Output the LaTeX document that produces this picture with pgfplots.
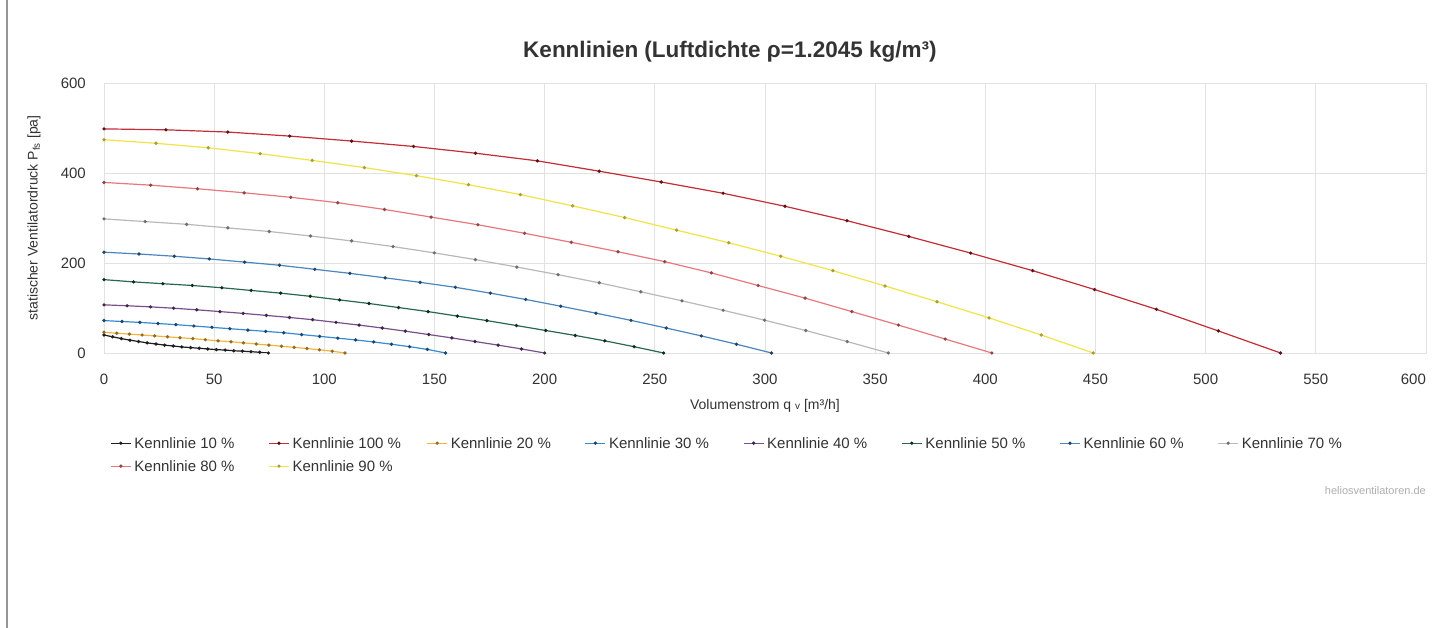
\documentclass[border=0pt]{standalone}
\usepackage{pgfplots}
\pgfplotsset{compat=1.18}
\usepackage{fontspec}
\setmainfont{Liberation Sans}
\definecolor{gridc}{RGB}{226,226,226}
\definecolor{txtc}{RGB}{51,51,51}
\definecolor{wmc}{RGB}{175,175,175}
\definecolor{bordc}{RGB}{150,150,150}
\definecolor{cA}{RGB}{30,30,30}
\definecolor{cJ}{RGB}{195,45,55}
\definecolor{cB}{RGB}{245,180,60}
\definecolor{cC}{RGB}{55,140,210}
\definecolor{cD}{RGB}{120,80,140}
\definecolor{cE}{RGB}{40,105,75}
\definecolor{cF}{RGB}{75,135,190}
\definecolor{cG}{RGB}{185,185,185}
\definecolor{cH}{RGB}{232,120,125}
\definecolor{cI}{RGB}{240,228,70}
\newcommand{\lent}[1]{\makebox[134bp][l]{#1}}
\begin{document}
\begin{tikzpicture}
\path[use as bounding box, fill=white] (0,0) rectangle (1432bp,628bp);
\draw[line width=2bp, bordc] (7bp,0) -- (7bp,628bp);
\begin{axis}[
  at={(104bp,275bp)}, anchor=south west,
  scale only axis, width=1322bp, height=270bp,
  xmin=0, xmax=600, ymin=0, ymax=600,
  xtick={0,50,...,600}, ytick={0,200,400,600},
  xticklabels={0,50,100,150,200,250,300,350,400,450,500,550,\makebox[0pt][r]{600}},
  grid=major, major grid style={draw=gridc, line width=0.8bp},
  axis line style={draw=gridc, line width=0.8bp},
  major tick length=0pt,
  /pgf/number format/assume math mode=true,
  tick label style={font=\fontsize{15bp}{18bp}\selectfont, text=txtc},
  xticklabel style={anchor=base, yshift=-32bp, inner sep=0pt},
  yticklabel style={anchor=east, xshift=-18bp, inner sep=0pt},
  title={Kennlinien (Luftdichte ρ=1.2045 kg/m³)},
  title style={at={(axis description cs:0.4735,1.0926)}, anchor=center, font=\bfseries\fontsize{22.5bp}{27bp}\selectfont, text=txtc},
  xlabel={Volumenstrom q {\fontsize{10bp}{12bp}\selectfont v} [m³/h]},
  xlabel style={at={(axis description cs:0.5,0)}, anchor=base, yshift=-57bp, font=\fontsize{14bp}{17bp}\selectfont, text=txtc},
  ylabel={statischer Ventilatordruck P\textsubscript{fs} [pa]},
  ylabel style={at={(axis description cs:-0.05295,0.5)}, anchor=center, font=\fontsize{14bp}{17bp}\selectfont, text=txtc},
  legend columns=8,
  legend style={at={(axis description cs:0.00454,-0.3131)}, anchor=north west, draw=none, fill=none, inner sep=0pt,
    font=\fontsize{15bp}{18bp}\selectfont, text=txtc, nodes={inner sep=0pt, text depth=0pt},
    column sep=0pt, row sep=12.1bp, /tikz/every odd column/.append style={column sep=3bp}},
  legend image code/.code={\draw[#1, mark repeat=2, mark phase=2] plot coordinates {(0bp,0bp) (10bp,0bp) (20bp,0bp)};},
  every axis plot/.append style={line width=1.2bp, mark=*, mark size=1.0bp},
]
\addplot[cA, mark options={fill=cA, draw=cA}] coordinates {
(0,40) (3.9,36) (7.9,32) (11.8,28.5) (15.7,25.5) (19.6,22.5) (23.6,20) (27.5,17.5) (31.4,15.5) (35.3,13.5)
(39.3,12) (43.2,10.5) (47.1,9) (51.0,7.5) (55.0,6.5) (58.9,5) (62.8,4) (66.7,3) (70.7,1.5) (74.6,0)};
\addlegendentry{\lent{Kennlinie 10 \%}}
\addplot[cJ, mark options={fill=cJ!45!black, draw=cJ!45!black}] coordinates {
(0,498) (28.1,496) (56.2,491) (84.3,482) (112.4,471) (140.5,459) (168.6,444) (196.7,427) (224.8,404) (252.9,380)
(281,355) (309.1,326) (337.2,294) (365.3,259) (393.4,222) (421.5,183) (449.6,141) (477.7,97) (505.8,49) (534,0)};
\addlegendentry{\lent{Kennlinie 100 \%}}
\addplot[cB, mark options={fill=cB!60!black, draw=cB!60!black}] coordinates {
(0,46) (5.8,44) (11.5,42) (17.3,40) (23.0,38) (28.8,36) (34.5,34) (40.3,32) (46.0,29.5) (51.8,27)
(57.6,25) (63.3,22.5) (69.1,20) (74.8,17.5) (80.6,15) (86.3,12.5) (92.1,10) (97.8,7) (103.6,4) (109.4,0)};
\addlegendentry{\lent{Kennlinie 20 \%}}
\addplot[cC, mark options={fill=cC!50!black, draw=cC!50!black}] coordinates {
(0,72) (8.2,70) (16.3,68) (24.5,65.5) (32.6,63) (40.8,60) (49.0,57) (57.1,54) (65.3,51) (73.4,48)
(81.6,45) (89.7,41) (97.9,37) (106.1,33) (114.2,29) (122.4,24.5) (130.5,19.5) (138.7,14) (146.8,8) (155,0)};
\addlegendentry{\lent{Kennlinie 30 \%}}
\addplot[cD, mark options={fill=cD!50!black, draw=cD!50!black}] coordinates {
(0,107) (10.5,105) (21.1,102.5) (31.6,99.5) (42.1,96) (52.6,92) (63.2,88) (73.7,83.5) (84.2,79) (94.7,74)
(105.3,68) (115.8,62) (126.3,55.5) (136.8,48.5) (147.4,41) (157.9,33.5) (168.4,25.5) (178.9,17.5) (189.5,9) (200,0)};
\addlegendentry{\lent{Kennlinie 40 \%}}
\addplot[cE, mark options={fill=cE!40!black, draw=cE!40!black}] coordinates {
(0,163) (13.4,158) (26.7,154) (40.1,150) (53.5,145) (66.8,139) (80.2,133) (93.6,126) (106.9,118) (120.3,110)
(133.7,101) (147.1,92) (160.4,82) (173.8,72) (187.2,61) (200.5,50) (213.9,39) (227.3,27) (240.6,14) (254,0)};
\addlegendentry{\lent{Kennlinie 50 \%}}
\addplot[cF, mark options={fill=cF!50!black, draw=cF!50!black}] coordinates {
(0,224) (15.9,220) (31.9,215) (47.8,209) (63.8,202) (79.7,195) (95.7,186) (111.6,177) (127.6,167) (143.5,157)
(159.5,146) (175.4,133) (191.4,119) (207.3,104) (223.3,88.5) (239.2,72.5) (255.2,55.5) (271.1,38) (287.1,19.5) (303,0)};
\addlegendentry{\lent{Kennlinie 60 \%}}
\addplot[cG, mark options={fill=cG!60!black, draw=cG!60!black}] coordinates {
(0,298) (18.7,292) (37.5,286) (56.2,278) (75.0,270) (93.7,260) (112.4,249) (131.2,236.5) (149.9,222.5) (168.6,207.5)
(187.4,191) (206.1,174) (224.8,156) (243.6,136) (262.3,116) (281.0,95) (299.8,73) (318.5,50) (337.3,25.5) (356,0)};
\addlegendentry{\lent{Kennlinie 70 \%}}
\addplot[cH, mark options={fill=cH!60!black, draw=cH!60!black}] coordinates {
(0,379) (21.2,373) (42.4,365) (63.6,356) (84.8,346) (106.1,334) (127.3,319) (148.5,302) (169.7,285) (190.9,266)
(212.1,246) (233.3,225) (254.5,203) (275.7,178) (296.9,150) (318.2,122) (339.4,92) (360.6,62) (381.8,31) (403,0)};
\addlegendentry{\lent{Kennlinie 80 \%}}
\addplot[cI, mark options={fill=cI!70!black, draw=cI!70!black}] coordinates {
(0,474) (23.6,466) (47.3,456) (70.9,443) (94.5,428) (118.2,412) (141.8,394) (165.4,374) (189.0,352) (212.7,327)
(236.3,301) (259.9,273) (283.6,245) (307.2,215) (330.8,183) (354.5,149) (378.1,114) (401.7,78) (425.4,40) (449,0)};
\addlegendentry{\lent{Kennlinie 90 \%}}
\end{axis}
\node[anchor=base east, font=\fontsize{11bp}{13bp}\selectfont, text=wmc, inner sep=0pt] at (1426bp,133.4bp) {heliosventilatoren.de};
\end{tikzpicture}
\end{document}
